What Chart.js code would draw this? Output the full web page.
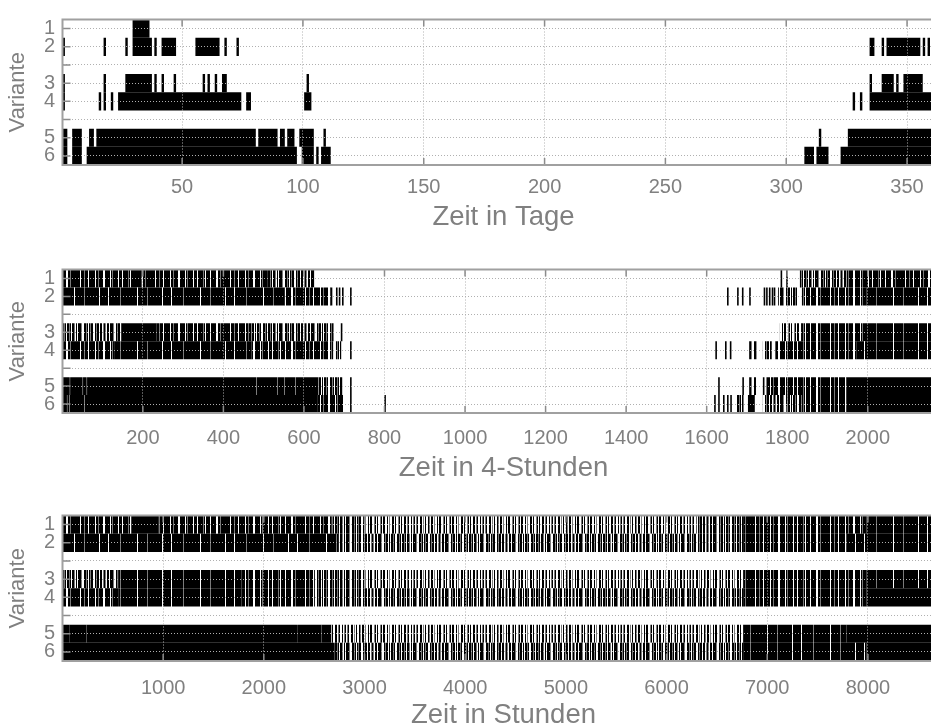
<!DOCTYPE html>
<html>
<head>
<meta charset="utf-8">
<script src="https://cdn.jsdelivr.net/npm/chart.js@4.4.1/dist/chart.umd.min.js"></script>
<style>
  html, body { margin: 0; padding: 0; background: #fff; overflow: hidden; width: 931px; height: 724px; }
  canvas { position: absolute; left: 0; }
</style>
</head>
<body>
<canvas id="tage" width="960" height="241" style="top:0px"></canvas>
<canvas id="vier" width="960" height="239" style="top:250px"></canvas>
<canvas id="std" width="960" height="241" style="top:496px"></canvas>
<script>
// y axis: 8 slots, variants sit in slots 1,2 / 4,5 / 7,8
const variantLabels = ['1', '2', '', '3', '4', '', '5', '6'];
const variantRows = [1, 2, 4, 5, 7, 8];

// segments: [first, last, tone]  tone: S solid, D dense, H heavy, M mixed, L light stripes
// --- Zeit in Tage (1..365)
const tageTicks = [50, 100, 150, 200, 250, 300, 350];
const tageV1 = [[30, 36]];
const tageV2 = [[1, 1], [18, 18], [27, 27], [30, 37], [39, 39], [42, 47], [56, 65], [68, 68], [73, 73],
  [335, 336], [340, 340], [342, 355], [357, 357], [359, 359]];
const tageV3 = [[1, 1], [18, 18], [27, 37], [39, 39], [42, 42], [47, 47], [59, 59], [61, 61], [64, 64], [67, 68],
  [102, 102], [335, 335], [340, 344], [346, 346], [349, 356]];
const tageV4 = [[1, 1], [16, 16], [18, 18], [21, 21], [24, 74], [77, 78], [101, 103], [328, 328], [331, 331], [335, 365]];
const tageV5 = [[1, 2], [5, 8], [12, 13], [15, 80], [82, 89], [91, 92], [94, 96], [99, 104], [109, 109], [314, 314], [326, 365]];
const tageV6 = [[1, 2], [5, 8], [11, 97], [100, 104], [106, 106], [108, 111], [308, 311], [313, 317], [323, 365]];

// --- Zeit in 4-Stunden (1..2190)
const vierTicks = [200, 400, 600, 800, 1000, 1200, 1400, 1600, 1800, 2000];
const vierV1 = [[1, 170, 'H'], [171, 197], [198, 510, 'H'], [511, 625, 'M'], [1784, 1784], [1798, 1798],
  [1832, 1947, 'M'], [1948, 2190, 'H']];
const vierV2 = [[1, 552, 'D'], [553, 665, 'H'], [666, 670], [680, 680], [687, 687], [695, 698], [715, 715],
  [1651, 1651], [1676, 1676], [1688, 1688], [1706, 1706], [1742, 1742], [1748, 1748], [1755, 1755], [1762, 1762],
  [1767, 1767], [1778, 1827, 'M'], [1837, 1996, 'H'], [1997, 2190, 'D']];
const vierV3 = [[1, 146, 'M'], [147, 233], [234, 469, 'H'], [470, 668, 'M'], [670, 670], [692, 692],
  [1782, 1836, 'L'], [1837, 2000, 'H'], [2001, 2190, 'D']];
const vierV4 = [[1, 130, 'H'], [131, 469, 'D'], [470, 667, 'H'], [669, 669], [680, 692, 'M'], [715, 715],
  [1622, 1622], [1646, 1646], [1658, 1658], [1706, 1724, 'M'], [1740, 1761, 'M'], [1771, 1971, 'H'], [1972, 2190, 'D']];
const vierV5 = [[1, 18], [20, 50], [52, 60], [62, 481], [483, 533], [535, 551], [553, 578], [580, 635],
  [636, 695, 'M'], [715, 715], [1629, 1629], [1689, 1689], [1706, 1722, 'M'], [1740, 1740], [1749, 1947, 'H'], [1948, 2190]];
const vierV6 = [[1, 11], [13, 17], [19, 54], [56, 634], [635, 697, 'H'], [715, 715], [800, 800],
  [1619, 1619], [1629, 1629], [1641, 1641], [1651, 1651], [1659, 1659], [1674, 1691, 'M'], [1703, 1719],
  [1740, 1836, 'M'], [1837, 1947, 'H'], [1948, 2190]];

// --- Zeit in Stunden (1..8760)
const stdTicks = [1000, 2000, 3000, 4000, 5000, 6000, 7000, 8000];
const stdV1 = [[1, 686, 'H'], [687, 951], [952, 2672, 'H'], [2673, 3003, 'M'], [3004, 6300, 'L'], [6301, 6760, 'M'],
  [6761, 7985, 'H'], [7986, 8760, 'D']];
const stdV2 = [[1, 2738, 'D'], [2739, 6760, 'M'], [6761, 7786, 'H'], [7787, 8760, 'D']];
const stdV3 = [[1, 553, 'M'], [554, 1778, 'D'], [1779, 2507, 'H'], [2508, 3003, 'M'], [3004, 6760, 'L'],
  [6761, 7985, 'H'], [7986, 8760, 'D']];
const stdV4 = [[1, 553, 'H'], [554, 1778, 'D'], [1779, 2507, 'H'], [2508, 6760, 'M'], [6761, 7985, 'H'], [7986, 8760]];
const stdV5 = [[1, 72], [74, 238], [240, 2330], [2332, 2572], [2574, 2672], [2673, 6760, 'L'], [6761, 7786, 'D'], [7787, 8760]];
const stdV6 = [[1, 2705], [2706, 6760, 'M'], [6761, 7985, 'D'], [7986, 8760]];

// stripe fills for dense barcode stretches (1 char = 1 px)
const stripeColors = { '#': '#000000', '+': '#7a7a7a', '-': '#bdbdbd', '.': '#ffffff' };
const stripeD = '###########.#########+##############.########.###########+#####';
const stripeH = '#####.###+###.######.##+####..#####.#+#####.###.#####+#.####.#####..##+####';
const stripeM = '##+#.##+.#.###+..##+#.#+##..#+##.##.+#+.##.###+..#+##.#.##+#..##+#.';
const stripeL = '#.+#..##.+.#..#+.##.+..#.##..+#.#..+#.##..#.+..##.#..+#.#..##.+#..#.+';

function stripePattern(code) {
  const c = document.createElement('canvas');
  c.width = code.length;
  c.height = 4;
  const g = c.getContext('2d');
  for (let i = 0; i < code.length; i++) {
    g.fillStyle = stripeColors[code[i]];
    g.fillRect(i, 0, 1, 4);
  }
  return g.createPattern(c, 'repeat');
}

const toneFill = {
  S: '#000000',
  D: stripePattern(stripeD),
  H: stripePattern(stripeH),
  M: stripePattern(stripeM),
  L: stripePattern(stripeL)
};

function buildBars(rows) {
  const out = [];
  rows.forEach((segs, r) => {
    segs.forEach(s => {
      out.push({ y: variantRows[r], x: [s[0] - 0.5, s[1] + 0.5], tone: s[2] || 'S' });
    });
  });
  return out;
}

// grey box and inward tick marks, MATLAB style
const framePlugin = {
  id: 'frame',
  afterDraw(chart) {
    const { ctx, chartArea: a, scales: { x, y } } = chart;
    ctx.save();
    ctx.strokeStyle = '#8c8c8c';
    ctx.lineWidth = 1.5;
    ctx.beginPath();
    x.ticks.forEach(t => {
      const px = x.getPixelForValue(t.value);
      ctx.moveTo(px, a.bottom); ctx.lineTo(px, a.bottom - 7);
      ctx.moveTo(px, a.top); ctx.lineTo(px, a.top + 7);
    });
    y.ticks.forEach(t => {
      const py = y.getPixelForValue(t.value);
      ctx.moveTo(a.left, py); ctx.lineTo(a.left + 8, py);
      ctx.moveTo(a.right, py); ctx.lineTo(a.right - 8, py);
    });
    ctx.stroke();
    ctx.strokeStyle = '#a0a0a0';
    ctx.lineWidth = 2;
    ctx.strokeRect(a.left, a.top, a.right - a.left, a.bottom - a.top);
    ctx.restore();
  }
};

const grey = '#808080';
const fontName = 'Liberation Sans';

function makePanel(id, rows, max, ticks, title, labelPad, titlePad) {
  return new Chart(document.getElementById(id), {
    type: 'bar',
    data: {
      datasets: [{
        data: buildBars(rows),
        backgroundColor: c => toneFill[(c.raw && c.raw.tone) || 'S'],
        borderWidth: 0,
        barPercentage: 1,
        categoryPercentage: 1,
        minBarLength: 1.6,
        inflateAmount: 0
      }]
    },
    options: {
      indexAxis: 'y',
      responsive: false,
      animation: false,
      events: [],
      layout: { padding: { top: 11, right: 15.5, left: 0, bottom: 0 } },
      plugins: { legend: { display: false }, tooltip: { enabled: false } },
      scales: {
        x: {
          type: 'linear',
          min: 0.5,
          max: max + 0.5,
          beginAtZero: false,
          afterBuildTicks: s => { s.ticks = ticks.map(v => ({ value: v })); },
          afterFit: s => { s.height = 76; },
          ticks: {
            callback: v => String(v),
            color: grey,
            font: { family: fontName, size: 20 },
            padding: labelPad,
            maxRotation: 0,
            autoSkip: false
          },
          grid: { color: '#b0b0b0', lineWidth: 1, drawTicks: false, z: 1 },
          border: { display: false, dash: [1, 2] },
          title: {
            display: true,
            text: title,
            color: grey,
            font: { family: fontName, size: 27.5 },
            padding: { top: 0, bottom: titlePad }
          }
        },
        y: {
          type: 'linear',
          reverse: true,
          min: 0.5,
          max: 8.5,
          offset: false,
          afterBuildTicks: s => { s.ticks = variantLabels.map((l, i) => ({ value: i + 1 })); },
          afterFit: s => { s.width = 62.5; },
          ticks: {
            callback: v => variantLabels[v - 1],
            color: grey,
            font: { family: fontName, size: 20 },
            padding: 7.5,
            autoSkip: false
          },
          grid: { color: '#b0b0b0', lineWidth: 1, drawTicks: false, offset: false, z: 1 },
          border: { display: false, dash: [1, 2] },
          title: {
            display: true,
            text: 'Variante',
            color: grey,
            font: { family: fontName, size: 22 },
            padding: { top: 5, bottom: 0 }
          }
        }
      }
    },
    plugins: [framePlugin]
  });
}

makePanel('tage', [tageV1, tageV2, tageV3, tageV4, tageV5, tageV6], 365, tageTicks, 'Zeit in Tage', 10, 7.5);
makePanel('vier', [vierV1, vierV2, vierV3, vierV4, vierV5, vierV6], 2190, vierTicks, 'Zeit in 4-Stunden', 13.5, 4.5);
makePanel('std', [stdV1, stdV2, stdV3, stdV4, stdV5, stdV6], 8760, stdTicks, 'Zeit in Stunden', 15, 5.5);
</script>
</body>
</html>
